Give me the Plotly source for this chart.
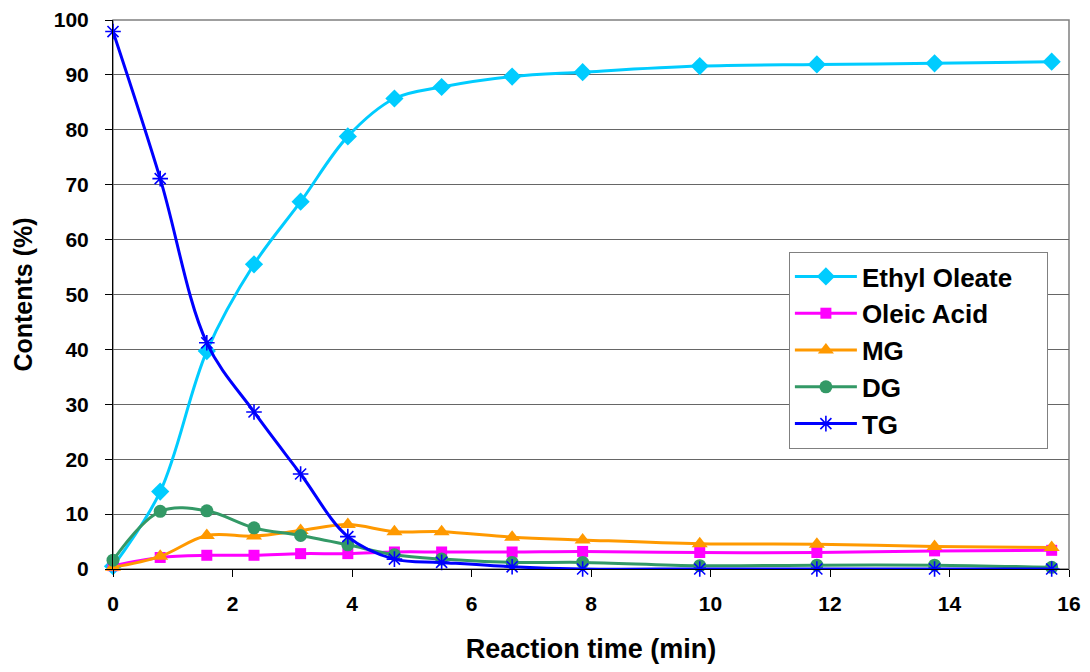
import plotly.graph_objects as go

time_min = [0, 0.79, 1.57, 2.36, 3.14, 3.93, 4.71, 5.50, 6.68, 7.86, 9.82, 11.78, 13.75, 15.71]
ethyl_oleate = [0.5, 14.1, 39.7, 55.5, 66.9, 78.8, 85.7, 87.8, 89.7, 90.5, 91.6, 91.9, 92.1, 92.4]
oleic_acid = [0.6, 2.1, 2.5, 2.5, 2.8, 2.8, 3.1, 3.1, 3.1, 3.2, 3.0, 3.0, 3.3, 3.4]
mg = [0.3, 2.3, 6.1, 6.0, 7.0, 8.1, 6.8, 6.8, 5.8, 5.3, 4.6, 4.5, 4.1, 3.9]
dg = [1.6, 10.5, 10.6, 7.5, 6.1, 4.4, 2.6, 1.8, 1.2, 1.2, 0.6, 0.7, 0.7, 0.3]
tg = [97.9, 71.1, 41.2, 28.6, 17.3, 5.9, 1.8, 1.2, 0.4, 0.0, 0.0, 0.0, 0.0, 0.0]

x_ticks = [0, 2, 4, 6, 8, 10, 12, 14, 16]
y_ticks = [0, 10, 20, 30, 40, 50, 60, 70, 80, 90, 100]

series = [
    ("Ethyl Oleate\u00a0\u00a0\u00a0\u00a0", ethyl_oleate, "#00CCFF", "diamond", 14, 3),
    ("Oleic Acid", oleic_acid, "#FF00FF", "square", 11, 3),
    ("MG", mg, "#FF9900", "triangle-up", 14, 3),
    ("DG", dg, "#339966", "circle", 13, 3),
    ("TG", tg, "#0000FF", "asterisk-open", 13, 3),
]

fig = go.Figure()
for name, vals, color, sym, size, lw in series:
    marker = dict(symbol=sym, size=size, color=color)
    if sym == "asterisk-open":
        marker["line"] = dict(color=color, width=1.6)
    else:
        marker["line"] = dict(width=0)
    fig.add_trace(go.Scatter(
        x=time_min, y=vals, name=name, mode="lines+markers",
        line=dict(color=color, width=lw, shape="spline", smoothing=1.0),
        marker=marker, cliponaxis=False,
    ))

font_family = "Liberation Sans, Arial, sans-serif"

# page body has an 8px margin; figure is sized so the plot area lands at 113..1069 x 20..569
fig.update_layout(
    width=1082, height=664,
    margin=dict(l=105, r=21, t=12, b=103),
    paper_bgcolor="white", plot_bgcolor="white",
    font=dict(family=font_family, color="black"),
    showlegend=True,
    legend=dict(
        x=0.707, y=0.5774, xanchor="left", yanchor="top",
        bgcolor="white", bordercolor="#808080", borderwidth=1,
        font=dict(size=26, family=font_family, color="black", weight="bold"),
        itemwidth=62, tracegroupgap=0,
    ),
    xaxis=dict(
        range=[0, 16], tickvals=x_ticks, ticktext=[str(v) for v in x_ticks],
        showgrid=False, zeroline=False, automargin=False,
        showline=True, linecolor="black", linewidth=1,
        ticks="outside", ticklen=7, tickcolor="black", tickwidth=1,
        tickfont=dict(size=21, weight="bold"),
        ticklabelstandoff=9,
        title=dict(text="Reaction time (min)", font=dict(size=27, weight="bold"), standoff=24),
    ),
    yaxis=dict(
        range=[0, 100], tickvals=y_ticks, ticktext=[str(v) for v in y_ticks],
        showgrid=True, gridcolor="#666666", gridwidth=1, zeroline=False, automargin=False,
        showline=True, linecolor="black", linewidth=1,
        ticks="outside", ticklen=7, tickcolor="black", tickwidth=1,
        tickfont=dict(size=21, weight="bold"),
        ticklabelstandoff=12,
        title=dict(text="Contents (%)", font=dict(size=25, weight="bold"), standoff=14),
    ),
    shapes=[dict(type="rect", xref="paper", yref="paper", x0=0, y0=0, x1=1, y1=1,
                 line=dict(color="#808080", width=1.5), layer="below")],
)

fig.write_html("out.html")
